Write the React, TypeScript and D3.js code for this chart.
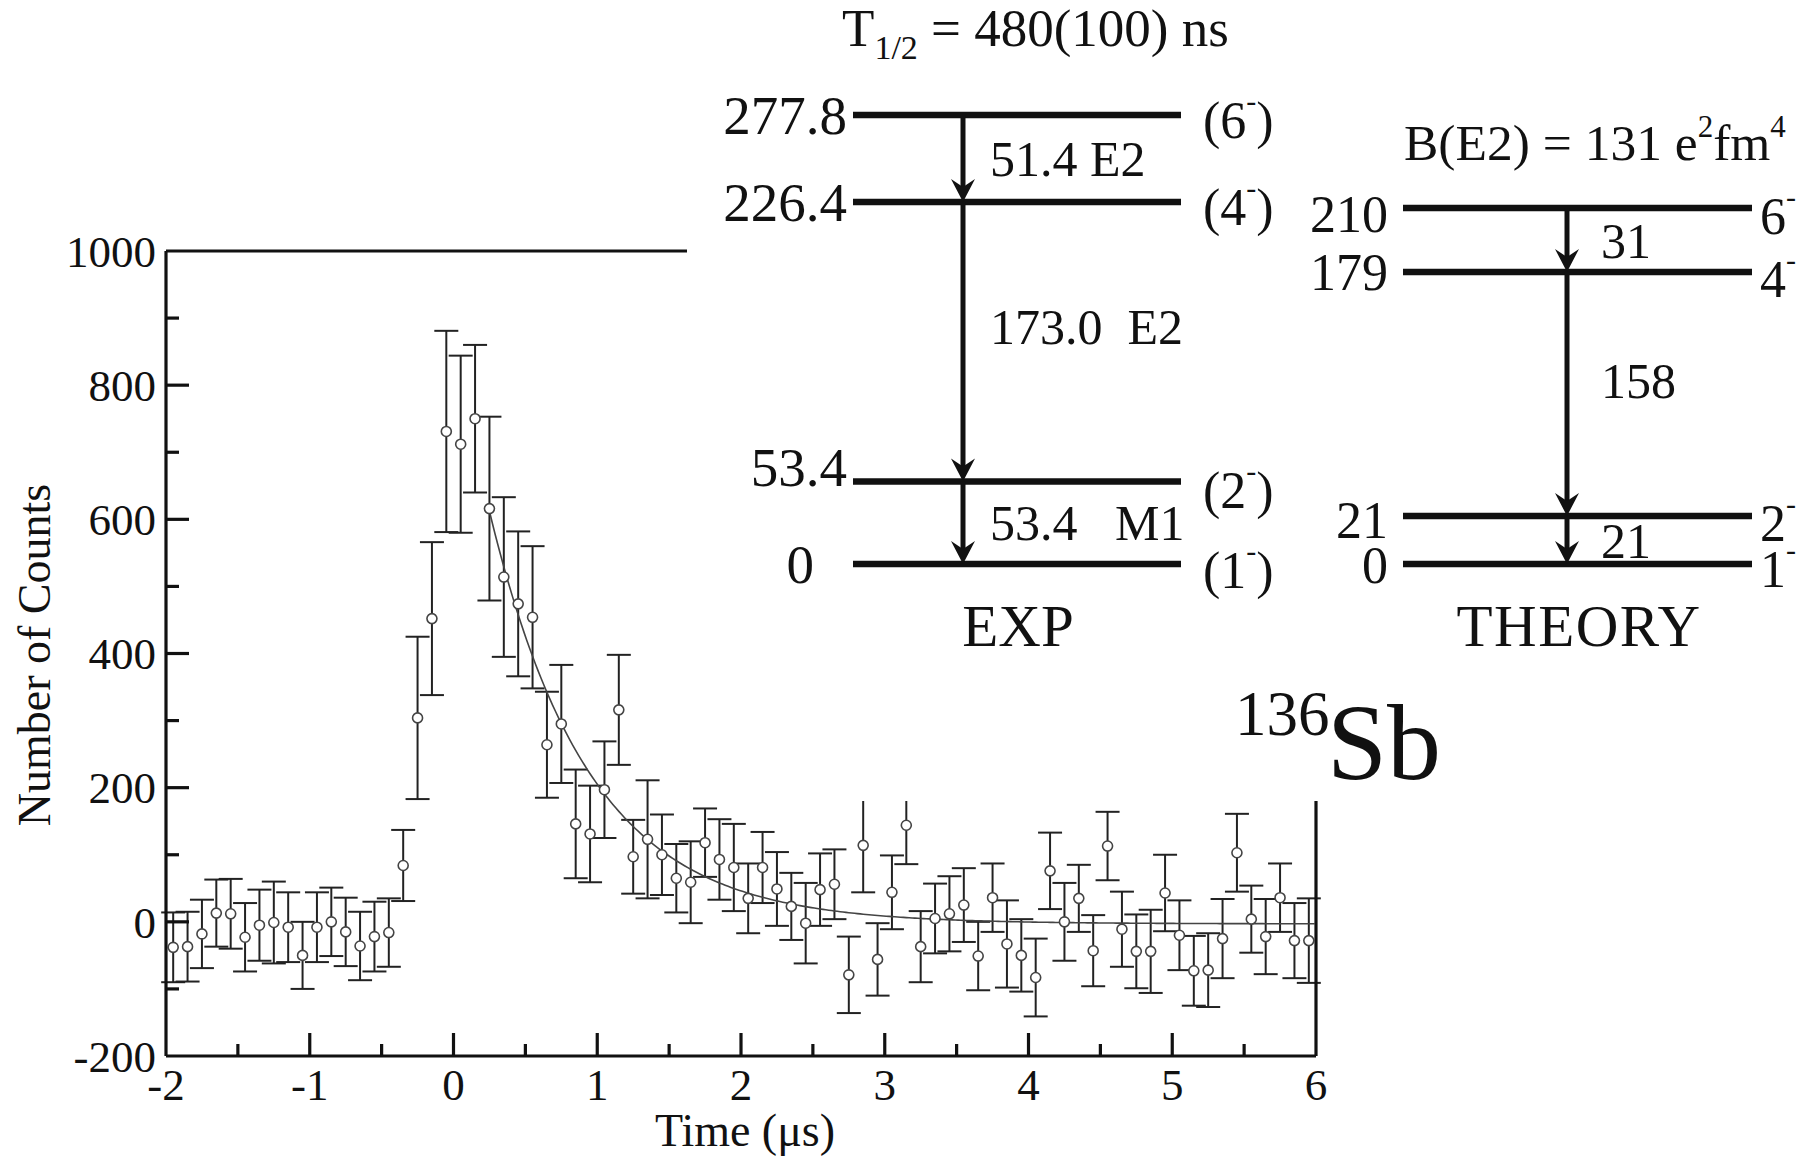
import React from 'react';
import * as d3 from 'd3';

const W = 1802;
const H = 1157;
const FONT = '"Liberation Serif", "Times New Roman", serif';

// ---- decay-curve data (bin centres in µs, counts, 1σ errors) ----
const times = [
  -1.95, -1.85, -1.75, -1.65, -1.55, -1.45, -1.35, -1.25, -1.15, -1.05,
  -0.95, -0.85, -0.75, -0.65, -0.55, -0.45, -0.35, -0.25, -0.15, -0.05,
  0.05, 0.15, 0.25, 0.35, 0.45, 0.55, 0.65, 0.75, 0.85, 0.95,
  1.05, 1.15, 1.25, 1.35, 1.45, 1.55, 1.65, 1.75, 1.85, 1.95,
  2.05, 2.15, 2.25, 2.35, 2.45, 2.55, 2.65, 2.75, 2.85, 2.95,
  3.05, 3.15, 3.25, 3.35, 3.45, 3.55, 3.65, 3.75, 3.85, 3.95,
  4.05, 4.15, 4.25, 4.35, 4.45, 4.55, 4.65, 4.75, 4.85, 4.95,
  5.05, 5.15, 5.25, 5.35, 5.45, 5.55, 5.65, 5.75, 5.85, 5.95,
];
const counts = [
  -38, -37, -18, 13, 12, -23, -5, -1, -8, -50,
  -8, 0, -15, -36, -22, -16, 84, 304, 452, 731,
  712, 750, 616, 514, 474, 454, 264, 295, 146, 131,
  197, 316, 97, 123, 100, 65, 59, 118, 93, 81,
  35, 81, 49, 23, -2, 48, 56, -79, 114, -56,
  44, 144, -37, 5, 12, 25, -51, 36, -33, -50,
  -83, 76, 0, 35, -43, 113, -11, -44, -44, 43,
  -20, -73, -72, -25, 103, 4, -22, 36, -28, -28,
];
const errors = [
  52, 52, 51, 50, 52, 51, 53, 61, 52, 50,
  52, 51, 51, 51, 52, 51, 53, 121, 114, 150,
  132, 110, 137, 119, 108, 106, 79, 88, 81, 72,
  72, 82, 55, 88, 60, 51, 61, 51, 60, 65,
  52, 53, 55, 50, 60, 54, 52, 57, 70, 54,
  55, 58, 53, 52, 56, 55, 51, 51, 65, 54,
  58, 57, 58, 50, 53, 51, 56, 55, 62, 57,
  52, 52, 55, 59, 58, 50, 56, 51, 56, 63,
];

const xTicks = [-2, -1, 0, 1, 2, 3, 4, 5, 6];
const xMinorTicks = [-1.5, -0.5, 0.5, 1.5, 2.5, 3.5, 4.5, 5.5];
const yTicks = [-200, 0, 200, 400, 600, 800, 1000];
const yMinorTicks = [-100, 100, 300, 500, 700, 900];

// exponential fit, T1/2 = 480 ns
const fitAmplitude = 615;
const fitStart = 0.25;
const fitEnd = 6;
const fitHalfLife = 0.48;
const fitBaseline = -3;

// ---- level schemes ----
const expEnergies = [0, 53.4, 226.4, 277.8];
const expEnergyLabels = ['0', '53.4', '226.4', '277.8'];
const expSpins = ['1', '2', '4', '6'];
const expFrom = [277.8, 226.4, 53.4];
const expTo = [226.4, 53.4, 0];
const expTransLabels = ['51.4 E2', '173.0  E2', '53.4   M1'];

const thEnergies = [0, 21, 179, 210];
const thEnergyLabels = ['0', '21', '179', '210'];
const thSpins = ['1', '2', '4', '6'];
const thFrom = [210, 179, 21];
const thTo = [179, 21, 0];
const thTransLabels = ['31', '158', '21'];

const fitValue = (t: number) =>
  fitAmplitude * Math.pow(2, -(t - fitStart) / fitHalfLife) + fitBaseline;

function Arrow({ x, y1, y2 }: { x: number; y1: number; y2: number }) {
  const hw = 12;
  const hh = 23;
  const notch = 8;
  return (
    <g>
      <line x1={x} x2={x} y1={y1} y2={y2 - 6} stroke="#111" strokeWidth={5} />
      <path
        d={`M${x},${y2} L${x - hw},${y2 - hh} L${x},${y2 - hh + notch} L${x + hw},${y2 - hh} Z`}
        fill="#111"
      />
    </g>
  );
}

function Scheme({
  energies, energyLabels, spins, from, to, transLabels, yScale,
  x1, x2, arrowX, labelRight, labelShift, labelDy, spinLeft, spinDy, transDx,
  paren, name, nameX, nameY, labelSize,
}: any) {
  return (
    <g fontFamily={FONT} fill="#111">
      {energies.map((e: number, i: number) => (
        <line key={'l' + i} x1={x1} x2={x2} y1={yScale(e)} y2={yScale(e)} stroke="#111" strokeWidth={6.5} />
      ))}
      {energies.map((e: number, i: number) => (
        <text
          key={'e' + i}
          x={labelRight + labelShift[i]}
          y={yScale(e) + labelDy[i]}
          dy="0.35em"
          textAnchor="end"
          fontSize={labelSize}
        >
          {energyLabels[i]}
        </text>
      ))}
      {energies.map((e: number, i: number) => (
        <text key={'s' + i} x={spinLeft} y={yScale(e) + spinDy[i]} dy="0.38em" fontSize={52}>
          {paren ? '(' : ''}
          {spins[i]}
          <tspan fontSize={30} dy="-0.9em">-</tspan>
          {paren ? <tspan dy="0.52em" fontSize={52}>)</tspan> : null}
        </text>
      ))}
      {from.map((f: number, i: number) => (
        <Arrow key={'a' + i} x={arrowX} y1={yScale(f)} y2={yScale(to[i])} />
      ))}
      {from.map((f: number, i: number) => {
        const ya = yScale(f);
        const yb = yScale(to[i]);
        const gap = yb - ya;
        const yc = (ya + yb) / 2 - (gap > 150 ? 0.055 * gap : 0);
        return (
          <text
            key={'t' + i}
            x={arrowX + transDx}
            y={yc}
            dy="0.35em"
            fontSize={50}
            style={{ whiteSpace: 'pre' }}
          >
            {transLabels[i]}
          </text>
        );
      })}
      <text x={nameX} y={nameY} textAnchor="middle" fontSize={59} letterSpacing={name === 'THEORY' ? 1.5 : 0}>
        {name}
      </text>
    </g>
  );
}

export default function App() {
  const x = d3.scaleLinear().domain([-2, 6]).range([166, 1316]);
  const y = d3.scaleLinear().domain([-200, 1000]).range([1056, 251]);

  const fitTimes = d3.range(fitStart, fitEnd + 0.001, 0.02);
  const fitLine = d3
    .line<number>()
    .x((t) => x(t))
    .y((t) => y(fitValue(t)))
    .curve(d3.curveLinear)(fitTimes);

  const expY = d3.scaleLinear().domain(expEnergies).range([564, 481.5, 202, 115]);
  const thY = d3.scaleLinear().domain(thEnergies).range([564, 516, 272, 208]);

  const capW = 12;
  const [x0, x1] = x.range();
  const [yb, yt] = y.range();

  return (
    <svg
      width={W}
      height={H}
      viewBox={`0 0 ${W} ${H}`}
      style={{ position: 'absolute', left: 0, top: 0, background: '#fff' }}
    >
      <rect x={0} y={0} width={W} height={H} fill="#fff" />

      {/* data */}
      <g stroke="#222" strokeWidth={2} fill="none">
        {times.map((t, i) => (
          <g key={i}>
            <line x1={x(t)} x2={x(t)} y1={y(counts[i] - errors[i])} y2={y(counts[i] + errors[i])} />
            <line x1={x(t) - capW} x2={x(t) + capW} y1={y(counts[i] + errors[i])} y2={y(counts[i] + errors[i])} />
            <line x1={x(t) - capW} x2={x(t) + capW} y1={y(counts[i] - errors[i])} y2={y(counts[i] - errors[i])} />
          </g>
        ))}
      </g>
      <path d={fitLine || ''} fill="none" stroke="#444" strokeWidth={1.6} />
      <g fill="#fff" stroke="#444" strokeWidth={1.6}>
        {times.map((t, i) => (
          <circle key={i} cx={x(t)} cy={y(counts[i])} r={5} />
        ))}
      </g>

      {/* axes frame */}
      <g stroke="#111" strokeWidth={3.2} fill="none">
        <line x1={x0} x2={x1} y1={yb} y2={yb} />
        <line x1={x0} x2={x1} y1={yt} y2={yt} />
        <line x1={x0} x2={x0} y1={yt} y2={yb} />
        <line x1={x1} x2={x1} y1={yt} y2={yb} />
        {xTicks.slice(1, -1).map((v) => (
          <line key={'xt' + v} x1={x(v)} x2={x(v)} y1={yb} y2={yb - 23} />
        ))}
        {xMinorTicks.map((v) => (
          <line key={'xm' + v} x1={x(v)} x2={x(v)} y1={yb} y2={yb - 12} />
        ))}
        {yTicks.slice(1, -1).map((v) => (
          <line key={'yt' + v} x1={x0} x2={x0 + 23} y1={y(v)} y2={y(v)} />
        ))}
        {yMinorTicks.map((v) => (
          <line key={'ym' + v} x1={x0} x2={x0 + 13} y1={y(v)} y2={y(v)} />
        ))}
      </g>
      <g fontFamily={FONT} fontSize={45} fill="#111">
        {xTicks.map((v) => (
          <text key={'xl' + v} x={x(v)} y={1100} textAnchor="middle">{String(v)}</text>
        ))}
        {yTicks.map((v) => (
          <text key={'yl' + v} x={156} y={y(v)} dy="0.35em" textAnchor="end">{String(v)}</text>
        ))}
      </g>
      <text x={745} y={1146} textAnchor="middle" fontFamily={FONT} fontSize={46} fill="#111">
        Time (μs)
      </text>
      <text
        transform="translate(34,655) rotate(-90)"
        textAnchor="middle"
        dy="0.35em"
        fontFamily={FONT}
        fontSize={46}
        fill="#111"
      >
        Number of Counts
      </text>

      {/* white panel of the level-scheme inset */}
      <rect x={687} y={0} width={W - 687} height={801} fill="#fff" />

      {/* title lines */}
      <text x={842} y={46} fontFamily={FONT} fontSize={53} fill="#111">
        T<tspan fontSize={34} dy="0.38em">1/2</tspan>
        <tspan dy="-0.25em" fontSize={53}> = 480(100) ns</tspan>
      </text>
      <text x={1404} y={160} fontFamily={FONT} fontSize={51.5} fill="#111">
        B(E2) = 131 e<tspan fontSize={31} dy="-0.75em">2</tspan>
        <tspan fontSize={51.5} dy="0.45em">fm</tspan>
        <tspan fontSize={31} dy="-0.75em">4</tspan>
      </text>

      <Scheme
        energies={expEnergies}
        energyLabels={expEnergyLabels}
        spins={expSpins}
        from={expFrom}
        to={expTo}
        transLabels={expTransLabels}
        yScale={expY}
        x1={853}
        x2={1181}
        arrowX={963}
        labelRight={847}
        labelShift={[-33, 0, 0, 0]}
        labelDy={[0, -15, 0, 0]}
        labelSize={55}
        spinLeft={1203}
        spinDy={[4, 7, 3, 3]}
        transDx={27}
        paren={true}
        name="EXP"
        nameX={1018}
        nameY={646}
      />
      <Scheme
        energies={thEnergies}
        energyLabels={thEnergyLabels}
        spins={thSpins}
        from={thFrom}
        to={thTo}
        transLabels={thTransLabels}
        yScale={thY}
        x1={1403}
        x2={1752}
        arrowX={1567}
        labelRight={1388}
        labelShift={[0, 0, 0, 0]}
        labelDy={[1, 4, 0, 6]}
        labelSize={52}
        spinLeft={1760}
        spinDy={[3, 5, 5, 6]}
        transDx={34}
        paren={false}
        name="THEORY"
        nameX={1579}
        nameY={646}
      />

      {/* nucleus label */}
      <text x={1235} y={735} fontFamily={FONT} fontSize={63} fill="#111">136</text>
      <text x={1327} y={779} fontFamily={FONT} fontSize={108} fill="#111">Sb</text>
    </svg>
  );
}
